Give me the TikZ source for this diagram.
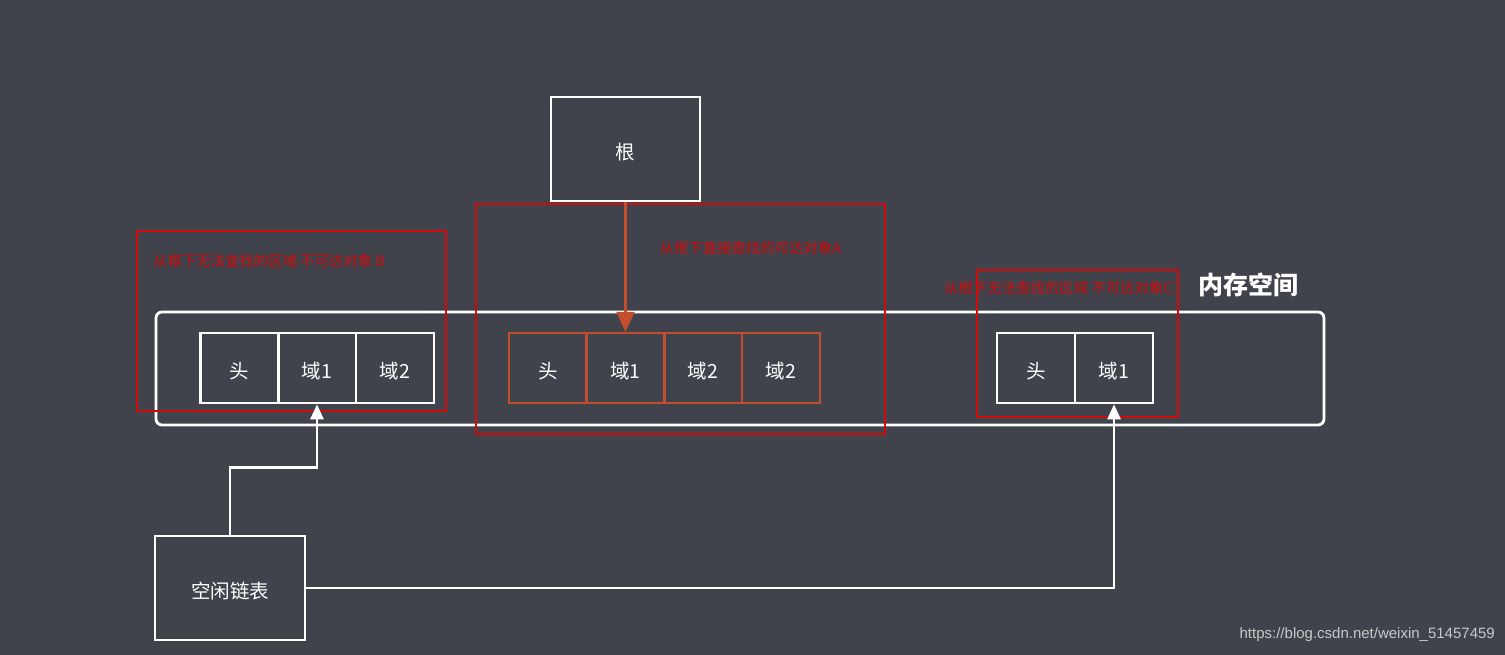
\documentclass[tikz,border=0pt]{standalone}
\usepackage{fontspec}
\setmainfont{Noto Sans CJK SC}
\newfontfamily\wmfont{Liberation Sans}
\usetikzlibrary{arrows.meta}
\definecolor{bg}{RGB}{64,67,76}
\definecolor{redbox}{RGB}{210,10,10}
\definecolor{orng}{RGB}{196,78,44}
\definecolor{wm}{RGB}{200,200,200}
\tikzset{
  cell/.style={draw=white, line width=2.6pt, minimum width=78pt, minimum height=70pt, inner sep=0pt, text=white, font=\fontsize{19.5}{19.5}\selectfont, text height=20.4pt, text depth=0pt},
  acell/.style={cell, draw=orng, line width=2.4pt},
  bigbox/.style={draw=white, line width=2.8pt, minimum width=148pt, minimum height=103pt, inner sep=0pt, text=white, font=\fontsize{19.5}{19.5}\selectfont, text height=20.4pt, text depth=0pt},
  region/.style={draw=redbox, line width=1.8pt, inner sep=0pt},
  redlabel/.style={text=redbox, inner sep=0pt, font=\fontsize{14.4}{14.4}\selectfont},
  wline/.style={draw=white, line width=2.6pt, -{Triangle[length=15pt,width=13pt]}},
  oline/.style={draw=orng, line width=2.4pt, -{Triangle[length=20pt,width=18pt]}},
}
\begin{document}
\begin{tikzpicture}[x=1pt,y=-1pt]
\fill[bg] (0,0) rectangle (1505,655);
\useasboundingbox (0,0) rectangle (1505,655);

% memory space
\node[draw=white, line width=2.8pt, rounded corners=6pt, minimum width=1168pt, minimum height=113pt, inner sep=0pt] (mem) at (740,368.5) {};
\node[text=white, inner sep=0pt, font=\fontsize{25}{25}\selectfont\bfseries] (memlbl) at (1248,285) {内存空间};

% root
\node[bigbox, minimum width=149pt, minimum height=104pt] (root) at (625.5,149) {根};

% group B
\node[cell] (b0) at (239.5,368) {头};
\node[cell] (b1) at (317,368) {域1};
\node[cell] (b2) at (395,368) {域2};

% group A
\node[acell] (a0) at (548,368) {头};
\node[acell] (a1) at (625.5,368) {域1};
\node[acell] (a2) at (703,368) {域2};
\node[acell] (a3) at (781,368) {域2};

% group C
\node[cell] (c0) at (1036,368) {头};
\node[cell] (c1) at (1114,368) {域1};

% red regions
\node[region, minimum width=309pt, minimum height=180pt] (rb) at (291.5,321) {};
\node[region, minimum width=409pt, minimum height=230pt] (ra) at (680.5,319) {};
\node[region, minimum width=201pt, minimum height=147pt] (rc) at (1077.5,343.5) {};

\node[redlabel, anchor=west] (lb) at (153,261) {从根下无法查找的区域 不可达对象 B};
\node[redlabel] (la) at (750.5,248) {从根下直接查找的可达对象A};
\node[redlabel, anchor=west] (lc) at (944,288) {从根下无法查找的区域 不可达对象C};

% free list
\node[bigbox, minimum width=150pt, minimum height=104pt] (free) at (230,588) {空闲链表};

% connectors
\draw[oline] (root.south) -- (a1.north);
\draw[wline] (free.north) -- ++(0,-67) -| (b1.south);
\draw[wline] (free.east) -| (c1.south);

% watermark
\node[text=wm, inner sep=0pt, anchor=east, font=\wmfont\fontsize{15}{15}\selectfont] (wmark) at (1495,635) {https://blog.csdn.net/weixin\_51457459};
\end{tikzpicture}
\end{document}
